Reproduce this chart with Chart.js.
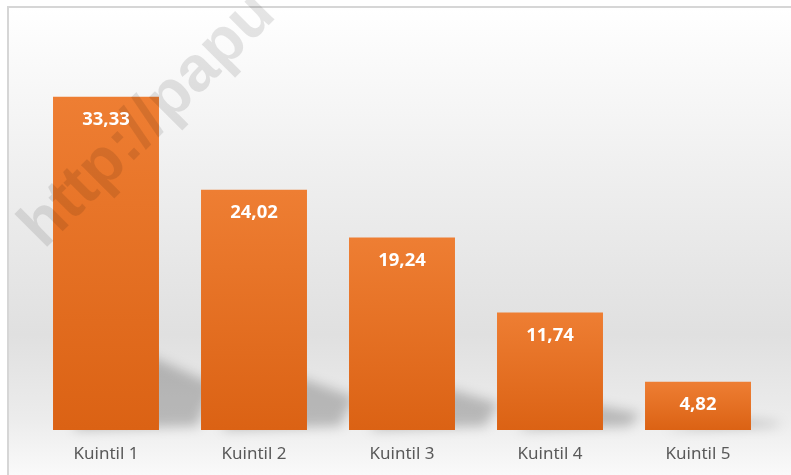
<!DOCTYPE html>
<html>
<head>
<meta charset="utf-8">
<script src="https://cdn.jsdelivr.net/npm/chart.js@4"></script>
<style>
  html, body { margin: 0; padding: 0; background: #fff; }
  #wrap { width: 791px; height: 475px; position: relative; }
</style>
</head>
<body>
<div id="wrap"><canvas id="quintileChart" width="791" height="475"></canvas></div>
<script>
const categories = ['Kuintil 1', 'Kuintil 2', 'Kuintil 3', 'Kuintil 4', 'Kuintil 5'];
const values = [33.33, 24.02, 19.24, 11.74, 4.82];
const watermark = 'http://papu';

const fmt = v => v.toFixed(2).replace('.', ',');

// light grey panel with a soft vertical gradient and a thin frame
const panelBackground = {
  id: 'panelBackground',
  beforeDraw(chart) {
    const ctx = chart.ctx;
    ctx.save();
    ctx.fillStyle = '#ffffff';
    ctx.fillRect(0, 0, chart.width, chart.height);
    const g = ctx.createLinearGradient(0, 8, 0, chart.height);
    g.addColorStop(0, '#ffffff');
    g.addColorStop(0.4, '#ededed');
    g.addColorStop(0.7, '#e0e0e0');
    g.addColorStop(0.88, '#ececec');
    g.addColorStop(1, '#fafafa');
    ctx.fillStyle = g;
    ctx.fillRect(8, 7, chart.width, chart.height);
    ctx.strokeStyle = '#d6d6d6';
    ctx.lineWidth = 2;
    ctx.strokeRect(8, 7, chart.width + 10, chart.height + 10);
    ctx.restore();
  }
};

// perspective shadow falling behind each bar
const barShadows = {
  id: 'barShadows',
  beforeDatasetsDraw(chart) {
    const ctx = chart.ctx;
    const meta = chart.getDatasetMeta(0);
    ctx.save();
    ctx.filter = 'blur(6px)';
    ctx.fillStyle = 'rgba(0,0,0,0.22)';
    meta.data.forEach(bar => {
      const h = bar.base - bar.y;
      const xl = bar.x - bar.width / 2;
      const xr = bar.x + bar.width / 2;
      const dy = h * 0.25;
      const dx = 28 + h * 0.08;
      ctx.beginPath();
      ctx.moveTo(xl + 20, bar.base);
      ctx.lineTo(xr - 30, bar.base - dy);
      ctx.lineTo(xr + dx, bar.base - dy * 0.55);
      ctx.lineTo(xr + dx * 0.7, bar.base - 4);
      ctx.closePath();
      ctx.fill();
    });
    ctx.restore();
  }
};

const overlay = {
  id: 'overlay',
  afterDatasetsDraw(chart) {
    const ctx = chart.ctx;
    // watermark
    ctx.save();
    ctx.translate(44, 250);
    ctx.rotate(-Math.PI / 4);
    ctx.font = 'bold 64px "Liberation Sans", Arial, sans-serif';
    ctx.fillStyle = 'rgba(0,0,0,0.1)';
    ctx.textBaseline = 'alphabetic';
    ctx.fillText(watermark, 0, 0);
    ctx.restore();

    // value labels inside bar tops
    const meta = chart.getDatasetMeta(0);
    ctx.save();
    ctx.font = 'bold 18.5px "Noto Sans", sans-serif';
    ctx.fillStyle = '#ffffff';
    ctx.textAlign = 'center';
    ctx.textBaseline = 'middle';
    meta.data.forEach((bar, i) => {
      ctx.fillText(fmt(values[i]), bar.x, bar.y + 23);
    });
    ctx.restore();
  }
};

const quintileChart = new Chart(document.getElementById('quintileChart'), {
  type: 'bar',
  data: {
    labels: categories,
    datasets: [{
      label: 'Kuintil',
      data: values,
      backgroundColor: function (context) {
        const chart = context.chart;
        if (!chart.chartArea) return '#e8732a';
        const y = chart.scales.y;
        const top = y.getPixelForValue(values[context.dataIndex]);
        const bottom = y.getPixelForValue(0);
        const g = chart.ctx.createLinearGradient(0, top, 0, bottom);
        g.addColorStop(0, '#ee7e33');
        g.addColorStop(1, '#db6214');
        return g;
      },
      borderWidth: 0,
      barPercentage: 0.716,
      categoryPercentage: 1,
    }]
  },
  options: {
    responsive: false,
    animation: false,
    layout: {
      padding: { left: 32, right: 19, top: 30, bottom: 10 }
    },
    plugins: {
      legend: { display: false },
      tooltip: { enabled: false },
    },
    scales: {
      x: {
        grid: { display: false, drawTicks: false },
        border: { display: false },
        afterFit(axis) { axis.height = 35; },
        ticks: {
          padding: 14,
          color: '#595959',
          font: { family: '"Noto Sans", sans-serif', size: 17 }
        }
      },
      y: {
        display: false,
        min: 0,
        max: 40,
      }
    }
  },
  plugins: [panelBackground, barShadows, overlay]
});
</script>
</body>
</html>
